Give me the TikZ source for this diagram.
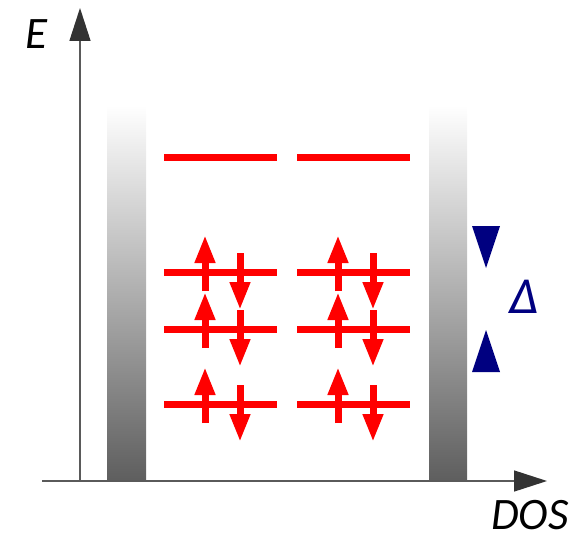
\documentclass[tikz,border=0pt]{standalone}
\usepackage{fontspec}
\setmainfont{Carlito}
\usetikzlibrary{arrows.meta}
\definecolor{cred}{HTML}{FF0000}
\definecolor{cnavy}{HTML}{000080}
\definecolor{caxis}{HTML}{5A5A5A}
\definecolor{ctip}{HTML}{333333}
\definecolor{cband}{HTML}{5E5E5E}
\tikzset{
  every picture/.style={x=1pt, y=-1pt},
  axis/.style={draw=caxis, line width=1.5pt, -{Triangle[length=33pt, width=21pt, color=ctip]}},
  band/.style={top color=white, bottom color=cband, draw=none},
  level/.style={draw=cred, line width=7pt},
  spin/.style={draw=cred, line width=7pt, -{Triangle[length=28pt, width=19pt, color=cred]}},
  axislabel/.style={font=\fontsize{45}{45}\selectfont\itshape, inner sep=0pt},
  gap/.style={fill=cnavy, draw=none},
}
\begin{document}
\begin{tikzpicture}
  \useasboundingbox (0,0) rectangle (578,540);
  % metal bands on both sides
  \fill[band] (107,105) rectangle (146,481);
  \fill[band] (429,105) rectangle (467,481);
  % axes
  \coordinate (origin) at (80,481);
  \coordinate (etop) at (80,8);
  \coordinate (xstart) at (42,481);
  \coordinate (dosend) at (547,481);
  \draw[axis] (origin) -- (etop);
  \draw[axis] (xstart) -- (dosend);
  \node[axislabel, anchor=base] (elabel) at (36,49) {E};
  \node[axislabel, anchor=base] (doslabel) at (530,529) {DOS};
  % empty levels
  \foreach \lx in {164, 297} \draw[level] (\lx,158) -- ++(113,0);
  % filled levels, two electrons each
  \foreach \ly in {272, 329, 404} {
    \foreach \lx in {164, 297} {
      \draw[level] (\lx,\ly) -- ++(113,0);
      \draw[spin] (\lx+41,\ly+19) -- (\lx+41,\ly-37);
      \draw[spin] (\lx+76,\ly-19) -- (\lx+76,\ly+38);
    }
  }
  % gap marks
  \fill[gap] (472,226) -- (500,226) -- (486,268) -- cycle;
  \fill[gap] (472,372) -- (500,372) -- (486,330) -- cycle;
  \node[axislabel, text=cnavy, font=\fontsize{52}{52}\selectfont\itshape, anchor=base] (delta) at (524,313) {Δ};
\end{tikzpicture}
\end{document}
